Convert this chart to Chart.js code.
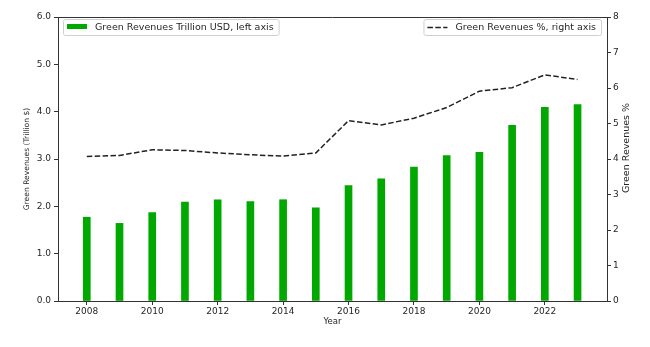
<!DOCTYPE html>
<html><head><meta charset="utf-8">
<script src="https://cdn.jsdelivr.net/npm/chart.js@4/dist/chart.umd.min.js"></script>
<style>html,body{margin:0;padding:0;background:#fff}</style>
</head><body>
<canvas id="c" width="650" height="347" style="display:block;width:650px;height:347px"></canvas>
<script>
const years = [2008,2009,2010,2011,2012,2013,2014,2015,2016,2017,2018,2019,2020,2021,2022,2023];
const revenuesTrillion = [1.77,1.64,1.87,2.09,2.14,2.10,2.14,1.97,2.44,2.58,2.83,3.07,3.14,3.71,4.09,4.15];
const revenuesPct = [4.07,4.10,4.26,4.24,4.17,4.12,4.08,4.17,5.08,4.96,5.15,5.45,5.91,6.01,6.37,6.24];
const xTickYears = [2008,2010,2012,2014,2016,2018,2020,2022];
const barLabel = 'Green Revenues Trillion USD, left axis';
const lineLabel = 'Green Revenues %, right axis';
const leftTitle = 'Green Revenues (Trillion $)';
const rightTitle = 'Green Revenues %';
const xTitle = 'Year';

const FONT = "'DejaVu Sans', sans-serif";
const TXT = '#262626';
const AX = '#333333';
const GREEN = '#00a800';

const framePlugin = {
  id: 'frameAndLegends',
  afterDraw(chart) {
    const {ctx, chartArea: a} = chart;
    ctx.save();
    ctx.strokeStyle = AX; ctx.lineWidth = 1;
    ctx.beginPath(); ctx.moveTo(a.left, a.top + 0.5); ctx.lineTo(a.right, a.top + 0.5); ctx.stroke();
    ctx.fillStyle = TXT;
    ctx.font = "9.5px " + FONT;
    ctx.textAlign = 'center'; ctx.textBaseline = 'middle';
    ctx.translate(627, 148); ctx.rotate(-Math.PI/2);
    ctx.fillText(rightTitle, 0, 0);
    ctx.restore();

    function box(x, y, w, h) {
      ctx.save();
      ctx.fillStyle = 'rgba(255,255,255,0.85)';
      ctx.strokeStyle = '#d0d0d0'; ctx.lineWidth = 1;
      ctx.beginPath();
      ctx.roundRect(x + 0.5, y + 0.5, w, h, 2);
      ctx.fill(); ctx.stroke();
      ctx.restore();
    }
    ctx.save();
    ctx.font = "9.5px " + FONT;
    ctx.textBaseline = 'middle'; ctx.textAlign = 'left';
    const tw1 = ctx.measureText(barLabel).width;
    box(63, 19, 32 + tw1 + 5, 16);
    ctx.fillStyle = GREEN;
    ctx.fillRect(67, 24, 20, 5);
    ctx.fillStyle = TXT;
    ctx.fillText(barLabel, 95, 27.5);
    const tw2 = ctx.measureText(lineLabel).width;
    const rx = 601 - (32 + tw2 + 5);
    box(rx, 19, 32 + tw2 + 5, 16);
    ctx.strokeStyle = '#222'; ctx.lineWidth = 1.5; ctx.setLineDash([5.5, 2.4]);
    ctx.beginPath(); ctx.moveTo(rx + 4, 27.5); ctx.lineTo(rx + 24, 27.5); ctx.stroke();
    ctx.setLineDash([]);
    ctx.fillStyle = TXT;
    ctx.fillText(lineLabel, rx + 32, 27.5);
    ctx.restore();
  }
};

new Chart(document.getElementById('c'), {
  type: 'bar',
  data: {
    datasets: [
      {
        type: 'line',
        label: lineLabel,
        data: years.map((y, i) => ({x: y, y: revenuesPct[i]})),
        yAxisID: 'y1',
        borderColor: '#222',
        borderWidth: 1.5,
        borderDash: [5.5, 2.4],
        pointRadius: 0,
        fill: false,
        tension: 0
      },
      {
        type: 'bar',
        label: barLabel,
        data: years.map((y, i) => ({x: y, y: revenuesTrillion[i]})),
        yAxisID: 'y',
        backgroundColor: GREEN,
        borderWidth: 0,
        barThickness: 7
      }
    ]
  },
  options: {
    responsive: false,
    animation: false,
    devicePixelRatio: 1,
    layout: {padding: {top: 17, left: 0, right: 0, bottom: 0}},
    plugins: {legend: {display: false}, tooltip: {enabled: false}},
    scales: {
      x: {
        type: 'linear',
        offset: false,
        grace: 0,
        min: 2007.12,
        max: 2023.9,
        afterBuildTicks: s => { s.ticks = xTickYears.map(v => ({value: v})); },
        afterFit: s => { s.height = 46; },
        grid: {drawOnChartArea: false, drawTicks: true, tickLength: 4, tickColor: AX, offset: false},
        border: {display: true, color: AX, width: 1},
        ticks: {color: TXT, font: {family: FONT, size: 9}, padding: 1, maxRotation: 0, callback: v => String(v)},
        title: {display: true, text: xTitle, color: TXT, font: {family: FONT, size: 8.5}, padding: {top: 0, bottom: 20}}
      },
      y: {
        position: 'left',
        min: 0, max: 6,
        afterBuildTicks: s => { s.ticks = [0,1,2,3,4,5,6].map(v => ({value: v})); },
        afterFit: s => { s.width = 58; },
        grid: {drawOnChartArea: false, drawTicks: true, tickLength: 4, tickColor: AX},
        border: {display: true, color: AX, width: 1},
        ticks: {color: TXT, font: {family: FONT, size: 9}, padding: 3, callback: v => Number(v).toFixed(1)},
        title: {display: true, text: leftTitle, color: TXT, font: {family: FONT, size: 7.6}, padding: {top: 22.4, bottom: 0}}
      },
      y1: {
        position: 'right',
        min: 0, max: 8,
        afterBuildTicks: s => { s.ticks = [0,1,2,3,4,5,6,7,8].map(v => ({value: v})); },
        afterFit: s => { s.width = 43; },
        grid: {drawOnChartArea: false, drawTicks: true, tickLength: 4, tickColor: AX},
        border: {display: true, color: AX, width: 1},
        ticks: {color: TXT, font: {family: FONT, size: 9}, padding: 2, callback: v => String(v)},
        title: {display: false}
      }
    }
  },
  plugins: [framePlugin]
});
</script>
</body></html>
